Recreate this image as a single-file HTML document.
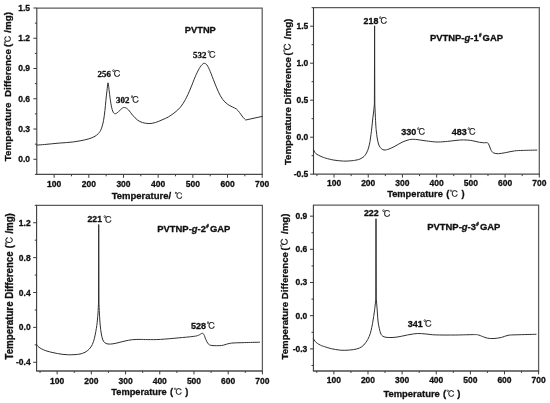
<!DOCTYPE html>
<html lang="en"><head><meta charset="utf-8"><title>DTA curves</title>
<style>html,body{margin:0;padding:0;background:#fff}svg{display:block;filter:blur(.35px)}text{stroke:#111;stroke-width:.3px;stroke-linejoin:round}.d{stroke-width:.15px}</style></head><body>
<svg width="550" height="403" viewBox="0 0 550 403">
<rect width="550" height="403" fill="#fff"/>
<path d="M36.3 8H262.2V175" fill="none" stroke="#5c5c5c" stroke-width="1.25"/>
<path d="M36.3 174.4H262.7" fill="none" stroke="#4a4a4a" stroke-width="1.3"/>
<path d="M36.8 8V174.4" fill="none" stroke="#3a3a3a" stroke-width="1.1"/>
<path d="M54.14 174.4v3.4M88.82 174.4v3.4M123.49 174.4v3.4M158.17 174.4v3.4M192.85 174.4v3.4M227.52 174.4v3.4M262.2 174.4v3.4M71.48 174.4v1.9M106.15 174.4v1.9M140.83 174.4v1.9M175.51 174.4v1.9M210.18 174.4v1.9M244.86 174.4v1.9M36.8 159.27h-3.4M36.8 129.02h-3.4M36.8 98.76h-3.4M36.8 68.51h-3.4M36.8 38.25h-3.4M36.8 8h-3.4M36.8 174.4h-1.9M36.8 144.15h-1.9M36.8 113.89h-1.9M36.8 83.64h-1.9M36.8 53.38h-1.9M36.8 23.13h-1.9" stroke="#3a3a3a" stroke-width="1.0" fill="none"/>
<g font-family="'Liberation Sans','Noto Sans CJK SC',sans-serif" font-weight="700" font-size="8.5" fill="#111">
<g text-anchor="middle">
<text x="54.14" y="187">100</text>
<text x="88.82" y="187">200</text>
<text x="123.49" y="187">300</text>
<text x="158.17" y="187">400</text>
<text x="192.85" y="187">500</text>
<text x="227.52" y="187">600</text>
<text x="262.2" y="187">700</text>
</g><g text-anchor="end">
<text x="30" y="162.17">0.0</text>
<text x="30" y="131.92">0.3</text>
<text x="30" y="101.66">0.6</text>
<text x="30" y="71.41">0.9</text>
<text x="30" y="41.15">1.2</text>
<text x="30" y="10.9">1.5</text>
</g></g>
<path d="M313 7.7H539.3V174.8" fill="none" stroke="#5c5c5c" stroke-width="1.25"/>
<path d="M313 174.2H539.8" fill="none" stroke="#4a4a4a" stroke-width="1.3"/>
<path d="M313.5 7.7V174.2" fill="none" stroke="#3a3a3a" stroke-width="1.1"/>
<path d="M334.03 174.2v3.4M368.24 174.2v3.4M402.45 174.2v3.4M436.66 174.2v3.4M470.88 174.2v3.4M505.09 174.2v3.4M539.3 174.2v3.4M316.92 174.2v1.9M351.13 174.2v1.9M385.35 174.2v1.9M419.56 174.2v1.9M453.77 174.2v1.9M487.98 174.2v1.9M522.19 174.2v1.9M313.5 174.2h-3.4M313.5 137.2h-3.4M313.5 100.2h-3.4M313.5 63.2h-3.4M313.5 26.2h-3.4M313.5 155.7h-1.9M313.5 118.7h-1.9M313.5 81.7h-1.9M313.5 44.7h-1.9M313.5 7.7h-1.9" stroke="#3a3a3a" stroke-width="1.0" fill="none"/>
<g font-family="'Liberation Sans','Noto Sans CJK SC',sans-serif" font-weight="700" font-size="8.5" fill="#111">
<g text-anchor="middle">
<text x="334.03" y="186.4">100</text>
<text x="368.24" y="186.4">200</text>
<text x="402.45" y="186.4">300</text>
<text x="436.66" y="186.4">400</text>
<text x="470.88" y="186.4">500</text>
<text x="505.09" y="186.4">600</text>
<text x="539.3" y="186.4">700</text>
</g><g text-anchor="end">
<text x="308.3" y="176.8">-0.5</text>
<text x="308.3" y="139.8">0.0</text>
<text x="308.3" y="102.8">0.5</text>
<text x="308.3" y="65.8">1.0</text>
<text x="308.3" y="28.8">1.5</text>
</g></g>
<path d="M36.1 205.3H262.4V371.6" fill="none" stroke="#5c5c5c" stroke-width="1.25"/>
<path d="M36.1 371H262.9" fill="none" stroke="#4a4a4a" stroke-width="1.3"/>
<path d="M36.6 205.3V371" fill="none" stroke="#3a3a3a" stroke-width="1.1"/>
<path d="M57.13 371v3.4M91.34 371v3.4M125.55 371v3.4M159.76 371v3.4M193.98 371v3.4M228.19 371v3.4M262.4 371v3.4M40.02 371v1.9M74.23 371v1.9M108.45 371v1.9M142.66 371v1.9M176.87 371v1.9M211.08 371v1.9M245.29 371v1.9M36.6 362.28h-3.4M36.6 327.39h-3.4M36.6 292.51h-3.4M36.6 257.63h-3.4M36.6 222.74h-3.4M36.6 344.84h-1.9M36.6 309.95h-1.9M36.6 275.07h-1.9M36.6 240.18h-1.9M36.6 205.3h-1.9" stroke="#3a3a3a" stroke-width="1.0" fill="none"/>
<g font-family="'Liberation Sans','Noto Sans CJK SC',sans-serif" font-weight="700" font-size="8.5" fill="#111">
<g text-anchor="middle">
<text x="57.13" y="383.8">100</text>
<text x="91.34" y="383.8">200</text>
<text x="125.55" y="383.8">300</text>
<text x="159.76" y="383.8">400</text>
<text x="193.98" y="383.8">500</text>
<text x="228.19" y="383.8">600</text>
<text x="262.4" y="383.8">700</text>
</g><g text-anchor="end">
<text x="30.7" y="365.38">-0.4</text>
<text x="30.7" y="330.49">0.0</text>
<text x="30.7" y="295.61">0.4</text>
<text x="30.7" y="260.73">0.8</text>
<text x="30.7" y="225.84">1.2</text>
</g></g>
<path d="M312.9 205.1H538.6V371.6" fill="none" stroke="#5c5c5c" stroke-width="1.25"/>
<path d="M312.9 371H539.1" fill="none" stroke="#4a4a4a" stroke-width="1.3"/>
<path d="M313.4 205.1V371" fill="none" stroke="#3a3a3a" stroke-width="1.1"/>
<path d="M333.87 371v3.4M367.99 371v3.4M402.12 371v3.4M436.24 371v3.4M470.36 371v3.4M504.48 371v3.4M538.6 371v3.4M316.81 371v1.9M350.93 371v1.9M385.05 371v1.9M419.18 371v1.9M453.3 371v1.9M487.42 371v1.9M521.54 371v1.9M313.4 348.88h-3.4M313.4 315.7h-3.4M313.4 282.52h-3.4M313.4 249.34h-3.4M313.4 216.16h-3.4M313.4 365.47h-1.9M313.4 332.29h-1.9M313.4 299.11h-1.9M313.4 265.93h-1.9M313.4 232.75h-1.9" stroke="#3a3a3a" stroke-width="1.0" fill="none"/>
<g font-family="'Liberation Sans','Noto Sans CJK SC',sans-serif" font-weight="700" font-size="8.5" fill="#111">
<g text-anchor="middle">
<text x="333.87" y="383.1">100</text>
<text x="367.99" y="383.1">200</text>
<text x="402.12" y="383.1">300</text>
<text x="436.24" y="383.1">400</text>
<text x="470.36" y="383.1">500</text>
<text x="504.48" y="383.1">600</text>
<text x="538.6" y="383.1">700</text>
</g><g text-anchor="end">
<text x="307.3" y="351.68">-0.3</text>
<text x="307.3" y="318.5">0.0</text>
<text x="307.3" y="285.32">0.3</text>
<text x="307.3" y="252.14">0.6</text>
<text x="307.3" y="218.96">0.9</text>
</g></g>
<g fill="none" stroke="#303030" stroke-width="1.0" stroke-linejoin="round" stroke-linecap="round">
<path d="M36.8 145.1C38.08 145 42 144.72 44.5 144.5C47 144.28 49.37 144.03 51.8 143.8C54.23 143.57 56.67 143.3 59.1 143.1C61.53 142.9 63.98 142.8 66.4 142.6C68.82 142.4 71.18 142.22 73.6 141.9C76.02 141.58 78.47 141.18 80.9 140.7C83.33 140.22 86.02 139.65 88.2 139C90.38 138.35 92.3 137.7 94 136.8C95.7 135.9 97.18 134.93 98.4 133.6C99.62 132.27 100.45 130.93 101.3 128.8C102.15 126.67 102.9 123.83 103.5 120.8C104.1 117.77 104.5 114 104.9 110.6C105.3 107.2 105.58 103.5 105.9 100.4C106.22 97.3 106.53 94.4 106.8 92C107.07 89.6 107.38 87 107.5 86L108 82.8L108.7 86.5C108.85 87.82 109.17 91.18 109.6 94.4C110.03 97.62 110.7 102.83 111.3 105.8C111.9 108.77 112.52 110.88 113.2 112.2C113.88 113.52 114.5 113.8 115.4 113.7C116.3 113.6 117.52 112.47 118.6 111.6C119.68 110.73 120.88 109.18 121.9 108.5C122.92 107.82 123.6 107.27 124.7 107.5C125.8 107.73 127.18 108.62 128.5 109.9C129.82 111.18 131.1 113.52 132.6 115.2C134.1 116.88 135.87 118.78 137.5 120C139.13 121.22 140.5 121.9 142.4 122.5C144.3 123.1 146.72 123.6 148.9 123.6C151.08 123.6 153.32 123.12 155.5 122.5C157.68 121.88 159.82 120.85 162 119.9C164.18 118.95 166.43 118.07 168.6 116.8C170.77 115.53 173.03 113.9 175 112.3C176.97 110.7 178.67 109.32 180.4 107.2C182.13 105.08 183.75 102.63 185.4 99.6C187.05 96.57 188.67 92.8 190.3 89C191.93 85.2 193.72 80.2 195.2 76.8C196.68 73.4 198.03 70.65 199.2 68.6C200.37 66.55 201.37 65.38 202.2 64.5C203.03 63.62 203.42 63.23 204.2 63.3C204.98 63.37 205.9 63.55 206.9 64.9C207.9 66.25 208.97 68.55 210.2 71.4C211.43 74.25 212.93 78.6 214.3 82C215.67 85.4 217.03 88.93 218.4 91.8C219.77 94.67 221 97.15 222.5 99.2C224 101.25 225.77 102.82 227.4 104.1C229.03 105.38 230.8 106.08 232.3 106.9C233.8 107.72 235.18 108.05 236.4 109C237.62 109.95 238.52 111.23 239.6 112.6C240.68 113.97 241.88 115.97 242.9 117.2C243.92 118.43 245.23 119.53 245.7 120L262.2 116.4"/>
<path d="M313.5 149.6C313.75 150.1 314.42 151.8 315 152.6C315.58 153.4 316 153.77 317 154.4C318 155.03 319.52 155.77 321 156.4C322.48 157.03 323.73 157.58 325.9 158.2C328.07 158.82 331.03 159.62 334 160.1C336.97 160.58 340.7 161 343.7 161.1C346.7 161.2 349.78 160.9 352 160.7C354.22 160.5 355.67 160.18 357 159.9C358.33 159.62 358.83 159.57 360 159C361.17 158.43 362.92 157.5 364 156.5C365.08 155.5 365.75 154.42 366.5 153C367.25 151.58 367.92 149.92 368.5 148C369.08 146.08 369.58 143.75 370 141.5C370.42 139.25 370.7 136.75 371 134.5C371.3 132.25 371.53 130.42 371.8 128C372.07 125.58 372.3 122.67 372.6 120C372.9 117.33 373.3 114.67 373.6 112C373.9 109.33 374.27 105.33 374.4 104L374.6 25.8L374.8 104C374.88 105.83 375.13 111.5 375.3 115C375.47 118.5 375.63 122.33 375.8 125C375.97 127.67 376.07 128.83 376.3 131C376.53 133.17 376.83 135.83 377.2 138C377.57 140.17 377.95 142.37 378.5 144C379.05 145.63 379.58 146.8 380.5 147.8C381.42 148.8 382.58 149.8 384 150C385.42 150.2 387.17 149.63 389 149C390.83 148.37 392.8 147.33 395 146.2C397.2 145.07 399.78 143.3 402.2 142.2C404.62 141.1 407.3 140.07 409.5 139.6C411.7 139.13 412.98 139.23 415.4 139.4C417.82 139.57 421.1 140.22 424 140.6C426.9 140.98 430.37 141.47 432.8 141.7C435.23 141.93 436.17 142.05 438.6 142C441.03 141.95 444.5 141.67 447.4 141.4C450.3 141.13 453.33 140.65 456 140.4C458.67 140.15 460.97 139.9 463.4 139.9C465.83 139.9 468.67 140.17 470.6 140.4C472.53 140.63 473.52 140.98 475 141.3C476.48 141.62 477.9 142.05 479.5 142.3C481.1 142.55 483.27 142.73 484.6 142.8C485.93 142.87 486.77 142.33 487.5 142.7C488.23 143.07 488.55 144.12 489 145C489.45 145.88 489.83 147.08 490.2 148C490.57 148.92 490.82 149.8 491.2 150.5C491.58 151.2 492.02 151.77 492.5 152.2C492.98 152.63 493.1 152.85 494.1 153.1C495.1 153.35 496.57 153.78 498.5 153.7C500.43 153.62 503.03 153.07 505.7 152.6C508.37 152.13 511.58 151.27 514.5 150.9C517.42 150.53 519.48 150.53 523.2 150.4C526.92 150.27 534.53 150.15 536.8 150.1"/>
<path d="M36.6 344.4C36.83 344.73 37.43 345.8 38 346.4C38.57 347 39.08 347.43 40 348C40.92 348.57 42.33 349.28 43.5 349.8C44.67 350.32 45.58 350.67 47 351.1C48.42 351.53 50.28 352 52 352.4C53.72 352.8 55.47 353.17 57.3 353.5C59.13 353.83 61.1 354.18 63 354.4C64.9 354.62 66.7 354.77 68.7 354.8C70.7 354.83 73.12 354.73 75 354.6C76.88 354.47 78.33 354.38 80 354C81.67 353.62 83.47 353.12 85 352.3C86.53 351.48 87.98 350.38 89.2 349.1C90.42 347.82 91.45 346.33 92.3 344.6C93.15 342.87 93.72 340.87 94.3 338.7C94.88 336.53 95.38 333.82 95.8 331.6C96.22 329.38 96.53 327.33 96.8 325.4C97.07 323.47 97.2 322.07 97.4 320C97.6 317.93 97.82 315.83 98 313C98.18 310.17 98.42 304.67 98.5 303L98.72 224.5L98.95 303C99.03 304.67 99.26 310.17 99.4 313C99.54 315.83 99.65 317.83 99.8 320C99.95 322.17 100.07 323.83 100.3 326C100.53 328.17 100.83 330.83 101.2 333C101.57 335.17 101.95 337.42 102.5 339C103.05 340.58 103.58 341.67 104.5 342.5C105.42 343.33 106.58 343.78 108 344C109.42 344.22 111.17 344.05 113 343.8C114.83 343.55 117 342.97 119 342.5C121 342.03 122.78 341.47 125 341C127.22 340.53 129.8 339.97 132.3 339.7C134.8 339.43 137.43 339.42 140 339.4C142.57 339.38 144.3 339.6 147.7 339.6C151.1 339.6 155.3 339.68 160.4 339.4C165.5 339.12 172.78 338.4 178.3 337.9C183.82 337.4 190.12 336.85 193.5 336.4C196.88 335.95 197.15 335.72 198.6 335.2C200.05 334.68 201.32 333.4 202.2 333.3C203.08 333.2 203.3 333.58 203.9 334.6C204.5 335.62 205.08 337.87 205.8 339.4C206.52 340.93 207.17 342.78 208.2 343.8C209.23 344.82 209.78 345.22 212 345.5C214.22 345.78 218.85 345.78 221.5 345.5C224.15 345.22 225.98 344.22 227.9 343.8C229.82 343.38 230.25 343.2 233 343C235.75 342.8 239.97 342.73 244.4 342.6C248.83 342.47 257.07 342.27 259.6 342.2"/>
<path d="M313.4 338.6C313.67 339.03 314.35 340.42 315 341.2C315.65 341.98 316.38 342.63 317.3 343.3C318.22 343.97 319.3 344.64 320.5 345.2C321.7 345.76 322.62 346.05 324.5 346.65C326.38 347.25 329.37 348.24 331.8 348.8C334.23 349.36 336.92 349.75 339.1 350C341.28 350.25 342.48 350.37 344.9 350.3C347.32 350.23 351.17 349.98 353.6 349.6C356.03 349.22 357.8 348.77 359.5 348C361.2 347.23 362.42 346.43 363.8 345C365.18 343.57 366.72 341.33 367.8 339.4C368.88 337.47 369.63 335.42 370.3 333.4C370.97 331.38 371.33 329.53 371.8 327.3C372.27 325.07 372.7 322.38 373.1 320C373.5 317.62 373.83 315.67 374.2 313C374.57 310.33 375.03 306.5 375.3 304C375.57 301.5 375.72 299 375.8 298L376 218.7L376.25 298C376.34 299.17 376.61 302.5 376.8 305C376.99 307.5 377.2 310.33 377.4 313C377.6 315.67 377.73 318.67 378 321C378.27 323.33 378.58 325 379 327C379.42 329 379.92 331.5 380.5 333C381.08 334.5 381.58 335.28 382.5 336C383.42 336.72 384.42 337.05 386 337.3C387.58 337.55 390 337.57 392 337.5C394 337.43 395.83 337.23 398 336.9C400.17 336.57 403 335.9 405 335.5C407 335.1 407.9 334.83 410 334.5C412.1 334.17 414.93 333.58 417.6 333.5C420.27 333.42 423.03 333.77 426 334C428.97 334.23 430.43 334.73 435.4 334.9C440.37 335.07 449.43 335.05 455.8 335C462.17 334.95 469.87 334.62 473.6 334.6C477.33 334.58 476.72 334.58 478.2 334.9C479.68 335.22 480.93 335.95 482.5 336.5C484.07 337.05 485.68 337.87 487.6 338.2C489.52 338.53 491.67 338.63 494 338.5C496.33 338.37 499.27 337.93 501.6 337.4C503.93 336.87 505.45 335.73 508 335.3C510.55 334.87 512.23 334.97 516.9 334.8C521.57 334.63 532.82 334.38 536 334.3"/>
</g>
<g font-family="'Liberation Sans','Noto Sans CJK SC',sans-serif" font-weight="700" fill="#111">
<text x="111.7" y="198.6" font-size="9.5">Temperature/ <tspan class="d" font-family="'Liberation Sans','IPAGothic',sans-serif" font-weight="400" font-size="8.6" dx="0.6">℃</tspan></text>
<text x="387.2" y="197.1" font-size="9.3">Temperature <tspan dx="0.9">(</tspan><tspan class="d" font-family="'Liberation Sans','IPAGothic',sans-serif" font-weight="400" font-size="8.8" dx="0.4">℃</tspan><tspan dx="0.2"> )</tspan></text>
<text x="111.3" y="395.3" font-size="9.27">Temperature <tspan dx="0.8">(</tspan><tspan class="d" font-family="'Liberation Sans','IPAGothic',sans-serif" font-weight="400" font-size="8.8" dx="0.5">℃</tspan><tspan dx="0.1"> )</tspan></text>
<text x="383.4" y="397.1" font-size="9.45">Temperature <tspan dx="0.4">(</tspan><tspan class="d" font-family="'Liberation Sans','IPAGothic',sans-serif" font-weight="400" font-size="8.8" dx="0.2">℃</tspan><tspan dx="-0.4"> )</tspan></text>
<text transform="translate(11.4 161.2) rotate(-90) scale(1 1.0)" font-size="9.82" xml:space="preserve">Temperature  Difference <tspan dx="-0.7">(</tspan><tspan class="d" font-family="'Liberation Sans','IPAGothic',sans-serif" font-weight="400" font-size="8.5">℃</tspan><tspan dx="-0.3"> /mg)</tspan></text>
<text transform="translate(291.0 165.1) rotate(-90) scale(1 1.0)" font-size="9.7" xml:space="preserve">Temperature Difference <tspan dx="-1.1">(</tspan><tspan class="d" font-family="'Liberation Sans','IPAGothic',sans-serif" font-weight="400" font-size="9.5">℃</tspan><tspan dx="0.9"> /mg)</tspan></text>
<text transform="translate(13.1 359.5) rotate(-90) scale(1 1.12)" font-size="9.72" xml:space="preserve">Temperature Difference <tspan dx="0.4">(</tspan><tspan class="d" font-family="'Liberation Sans','IPAGothic',sans-serif" font-weight="400" font-size="8.7">℃</tspan><tspan dx="0"> /mg)</tspan></text>
<text transform="translate(288.2 359.4) rotate(-90) scale(1 1.0)" font-size="9.64" xml:space="preserve">Temperature Difference <tspan dx="-1.0">(</tspan><tspan class="d" font-family="'Liberation Sans','IPAGothic',sans-serif" font-weight="400" font-size="9.5">℃</tspan><tspan dx="1.1"> /mg)</tspan></text>
</g>
<g font-family="'Liberation Sans','Noto Sans CJK SC',sans-serif" font-weight="700" font-size="9.2" fill="#111">
<text x="184.8" y="33.4" font-size="9.3">PVTNP</text>
<text x="429.9" y="41.3" font-size="9.45">PVTNP-<tspan font-style="italic">g</tspan>-1<tspan font-size="4.5" dy="-4.2" dx="0.3">#</tspan><tspan dy="4.2" dx="-1.5"> GAP</tspan></text>
<text x="157.2" y="232.3" font-size="9.45">PVTNP-<tspan font-style="italic">g</tspan>-2<tspan font-size="4.5" dy="-4.2" dx="0.3">#</tspan><tspan dy="4.2" dx="-1.5"> GAP</tspan></text>
<text x="427.2" y="229.7" font-size="9.45">PVTNP-<tspan font-style="italic">g</tspan>-3<tspan font-size="4.5" dy="-4.2" dx="0.3">#</tspan><tspan dy="4.2" dx="-1.5"> GAP</tspan></text>
</g>
<g font-family="'Liberation Serif','Noto Serif CJK SC',serif" font-weight="700" font-size="8.9" fill="#111">
<text x="97.5" y="77.1">256<tspan class="d" font-family="'Liberation Sans','IPAGothic',sans-serif" font-weight="400" font-size="9" dx="1.2">℃</tspan></text>
<text x="116" y="102.8">302<tspan class="d" font-family="'Liberation Sans','IPAGothic',sans-serif" font-weight="400" font-size="9" dx="1.3">℃</tspan></text>
<text x="193.1" y="57.5">532<tspan class="d" font-family="'Liberation Sans','IPAGothic',sans-serif" font-weight="400" font-size="9" dx="0.9">℃</tspan></text>
</g>
<g font-family="'Liberation Sans','Noto Sans CJK SC',sans-serif" font-weight="700" font-size="9" fill="#111">
<text x="363.6" y="23.6" font-size="8.85">218<tspan class="d" font-family="'Liberation Sans','IPAGothic',sans-serif" font-weight="400" font-size="9" dx="0.5">℃</tspan></text>
<text x="401.3" y="135.2">330<tspan class="d" font-family="'Liberation Sans','IPAGothic',sans-serif" font-weight="400" font-size="9" dx="0.3">℃</tspan></text>
<text x="451.8" y="135.2">483<tspan class="d" font-family="'Liberation Sans','IPAGothic',sans-serif" font-weight="400" font-size="9" dx="0.5">℃</tspan></text>
<text x="87.6" y="222.3" font-size="8.6">221<tspan class="d" font-family="'Liberation Sans','IPAGothic',sans-serif" font-weight="400" font-size="9" dx="1.2" dy="0.6">℃</tspan></text>
<text x="190.9" y="329.2">528<tspan class="d" font-family="'Liberation Sans','IPAGothic',sans-serif" font-weight="400" font-size="9" dx="0.5">℃</tspan></text>
<text x="363.9" y="215.9" font-size="8.85">222 <tspan class="d" font-family="'Liberation Sans','IPAGothic',sans-serif" font-weight="400" font-size="9" dx="1.0" dy="0.8">℃</tspan></text>
<text x="407.7" y="327.1">341<tspan class="d" font-family="'Liberation Sans','IPAGothic',sans-serif" font-weight="400" font-size="9" dx="0.6">℃</tspan></text>
</g>
</svg></body></html>
